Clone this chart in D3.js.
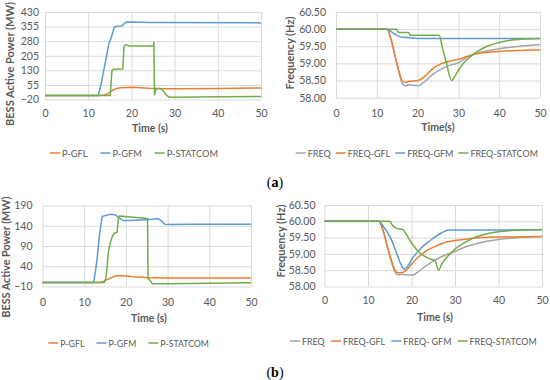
<!DOCTYPE html>
<html><head><meta charset="utf-8">
<script src="https://cdn.jsdelivr.net/npm/d3@7"></script>
<style>
body{margin:0;background:#fff;}
svg{display:block;font-family:Lato,"Open Sans",sans-serif;}
</style></head><body>
<svg id="c" width="550" height="380"></svg>
<script>
// ---------- data ----------
const timeTicks = [0, 10, 20, 30, 40, 50];
const powerTicksA = [-20, 55, 130, 205, 280, 355, 430];
const powerTicksB = [-10, 40, 90, 140, 190];
const freqTicks = [58.0, 58.5, 59.0, 59.5, 60.0, 60.5];

const powerNames = ["P-GFL", "P-GFM", "P-STATCOM"];
const freqNamesA = ["FREQ", "FREQ-GFL", "FREQ-GFM", "FREQ-STATCOM"];
const freqNamesB = ["FREQ", "FREQ-GFL", "FREQ- GFM", "FREQ-STATCOM"];

// (a) BESS active power [time s, MW]
const aPGFL = [[0,0],[12.5,0],[13.5,2],[14.5,10],[15.5,25],[16.5,36],[17.5,40],[19,42],[20.5,43],[22,41],[24,38],[26,36],[28,35],[32,35],[40,37],[50,39]];
const aPGFM = [[0,0],[12.3,0],[13,60],[14,175],[14.8,270],[15.3,295],[16,350],[16.5,357],[17.8,358],[18.6,376],[19.2,378],[25,376],[50,374]];
const aPSTAT = [[0,0],[15.1,0],[15.5,130],[15.9,136],[18,137],[18.3,255],[18.8,262],[19.5,255],[25.1,255],[25.2,275],[25.35,5],[25.7,35],[26.5,38],[27,33],[27.5,22],[28.2,0],[28.8,-8],[35,-7],[50,-4]];

// (a) frequency [time s, Hz]
const aFREQ = [[0,60],[12.5,60],[13.5,59.7],[14.5,59.2],[15.5,58.7],[16.3,58.4],[17,58.35],[18,58.38],[19,58.36],[20.3,58.35],[21,58.4],[22,58.5],[24,58.7],[26,58.85],[28,58.95],[30,59.02],[32,59.17],[34,59.28],[36,59.34],[40,59.43],[45,59.5],[50,59.55]];
const aFGFL = [[0,60],[12.5,60],[13.5,59.7],[14.5,59.2],[15.5,58.75],[16.3,58.48],[17,58.45],[18,58.48],[20,58.5],[21,58.55],[22,58.65],[24,58.88],[26,59.0],[28,59.07],[30,59.12],[32,59.2],[34,59.27],[36,59.31],[40,59.35],[45,59.38],[50,59.4]];
const aFGFM = [[0,60],[12.5,60],[13.5,59.93],[14.5,59.85],[15.5,59.79],[16.5,59.76],[18,59.75],[20,59.73],[50,59.73]];
const aFSTAT = [[0,60],[14.8,60],[15.2,59.92],[15.6,59.9],[17.8,59.9],[18.2,59.82],[25.3,59.82],[26,59.5],[27,59.05],[28.3,58.5],[29,58.6],[30,58.8],[31,58.97],[32,59.1],[33,59.2],[35,59.37],[37,59.5],[40,59.61],[43,59.68],[46,59.71],[50,59.73]];

// (b) BESS active power
const bPGFL = [[0,0],[13.5,0],[14.5,2],[15.5,7],[16.5,12],[17.5,16],[18.5,17],[20,16],[22,14],[25,12],[30,11],[40,11],[50,11]];
const bPGFM = [[0,0],[12.3,0],[13,50],[13.7,120],[14.3,163],[15,165],[16,168],[17,168],[17.6,166],[18.5,158],[19.2,153],[21,153],[25,155],[27.8,157],[28.5,152],[29.3,144],[30,143],[35,144],[50,144]];
const bPSTAT = [[0,0],[14.8,0],[15.2,10],[15.5,40],[15.8,75],[16.3,100],[16.8,115],[17.3,122],[17.9,124],[18.2,160],[18.5,164],[22,161],[25.2,158],[25.3,10],[25.8,5],[26.3,-3],[30,-3],[50,-1]];

// (b) frequency
const bFREQ = [[0,60],[12.5,60],[13.5,59.7],[14.5,59.2],[15.5,58.7],[16.3,58.42],[17,58.36],[18,58.37],[19.5,58.35],[20.5,58.36],[21.5,58.45],[23,58.6],[25,58.78],[27,58.92],[30,59.08],[33,59.24],[36,59.35],[40,59.44],[45,59.5],[50,59.53]];
const bFGFL = [[0,60],[12.5,60],[13.5,59.7],[14.5,59.2],[15.5,58.75],[16.3,58.48],[17,58.42],[18,58.43],[19,58.52],[20,58.68],[21,58.83],[22,58.95],[23.5,59.1],[25,59.2],[27,59.32],[30,59.41],[33,59.46],[36,59.5],[40,59.52],[50,59.53]];
const bFGFM = [[0,60],[12.5,60],[13.5,59.85],[14.5,59.65],[15.5,59.4],[16.5,59.05],[17.5,58.7],[18.3,58.53],[19,58.6],[20,58.82],[21,59.0],[22,59.15],[23.5,59.33],[25,59.48],[27,59.65],[28.5,59.73],[35,59.73],[50,59.74]];
const bFSTAT = [[0,60],[15,60],[15.5,59.9],[16.3,59.8],[17,59.77],[18,59.75],[18.7,59.62],[19.5,59.45],[20.5,59.25],[21.5,59.08],[23,58.93],[24.5,58.83],[25.4,58.8],[26.2,58.5],[27,58.7],[28,58.88],[29,59.02],[30,59.15],[32,59.33],[34,59.47],[36,59.57],[40,59.68],[45,59.73],[50,59.75]];

// ---------- styles ----------
const C = {gray:"#A5A5A5", orange:"#ED7D31", blue:"#5B9BD5", green:"#70AD47"};
const textColor = "#595959";
const gridColor = "#D9D9D9";
const FONT = "Lato, 'Open Sans', sans-serif";

const panels = [
  {x:[45,261], y:[99.5,12], yTicks:powerTicksA, fmt:d3.format("d"), ypad:6, xpad:10,
   ytitle:"BESS Active Power (MW)", ytx:9, yty:64, ytw:124, xtitle:"Time (s)", xtx:150, xty:128,
   legY:153, legL:50, legR:218, legGap:13, curve:d3.curveLinear,
   series:[{d:aPGFL,c:C.orange,n:powerNames[0]},{d:aPGFM,c:C.blue,n:powerNames[1]},{d:aPSTAT,c:C.green,n:powerNames[2]}]},
  {x:[336,540], y:[97.7,12], yTicks:freqTicks, fmt:d3.format(".2f"), ypad:10, xpad:12,
   ytitle:"Frequency (Hz)", ytx:289.5, yty:53, ytw:75, xtitle:"Time(s)", xtx:438, xty:127,
   legY:153, legL:295.7, legR:538, legGap:5, curve:d3.curveMonotoneX,
   series:[{d:aFREQ,c:C.gray,n:freqNamesA[0]},{d:aFGFL,c:C.orange,n:freqNamesA[1]},{d:aFGFM,c:C.blue,n:freqNamesA[2]},{d:aFSTAT,c:C.green,n:freqNamesA[3]}]},
  {x:[42.5,251], y:[286.5,205.5], yTicks:powerTicksB, fmt:d3.format("d"), ypad:10, xpad:12,
   ytitle:"BESS Active Power (MW)", ytx:5.5, yty:257, ytw:121, xtitle:"Time (s)", xtx:149, xty:318,
   legY:343, legL:48.3, legR:209, legGap:12, curve:d3.curveLinear,
   series:[{d:bPGFL,c:C.orange,n:powerNames[0]},{d:bPGFM,c:C.blue,n:powerNames[1]},{d:bPSTAT,c:C.green,n:powerNames[2]}]},
  {x:[324.5,542], y:[286.5,205], yTicks:freqTicks, fmt:d3.format(".2f"), ypad:9, xpad:10.5,
   ytitle:"Frequency (Hz)", ytx:280, yty:241, ytw:78, xtitle:"Time (s)", xtx:435, xty:317,
   legY:341, legL:290, legR:536.7, legGap:6, curve:d3.curveMonotoneX,
   series:[{d:bFREQ,c:C.gray,n:freqNamesB[0]},{d:bFGFL,c:C.orange,n:freqNamesB[1]},{d:bFGFM,c:C.blue,n:freqNamesB[2]},{d:bFSTAT,c:C.green,n:freqNamesB[3]}]}
];

const svg = d3.select("#c");

panels.forEach(p => {
  const xs = d3.scaleLinear().domain([0,50]).range(p.x);
  const ys = d3.scaleLinear().domain(d3.extent(p.yTicks)).range(p.y);
  const w = p.x[1]-p.x[0], h = p.y[0]-p.y[1];
  const g = svg.append("g");

  const ya = g.append("g").attr("transform",`translate(${p.x[0]},0)`)
    .call(d3.axisLeft(ys).tickValues(p.yTicks).tickFormat(p.fmt).tickSizeInner(-w).tickSizeOuter(0).tickPadding(p.ypad));
  ya.select(".domain").remove();
  ya.selectAll("line").attr("stroke",gridColor);
  ya.selectAll("text").attr("fill",textColor).attr("font-size",10.5).attr("font-family",FONT);

  const xa = g.append("g").attr("transform",`translate(0,${p.y[0]})`)
    .call(d3.axisBottom(xs).tickValues(timeTicks).tickFormat(d3.format("d")).tickSizeInner(-h).tickSizeOuter(0).tickPadding(p.xpad));
  xa.select(".domain").remove();
  xa.selectAll("line").attr("stroke",gridColor);
  xa.selectAll("text").attr("fill",textColor).attr("font-size",10.5).attr("font-family",FONT);

  const line = d3.line().x(d=>xs(d[0])).y(d=>ys(d[1])).curve(p.curve);
  p.series.forEach(s => {
    g.append("path").attr("d",line(s.d)).attr("fill","none").attr("stroke",s.c)
      .attr("stroke-width",1.5).attr("stroke-linejoin","round");
  });

  // y title fitted to its reference length
  const yt = g.append("text").attr("transform",`translate(${p.ytx},${p.yty}) rotate(-90)`)
    .attr("text-anchor","middle").attr("dominant-baseline","central")
    .attr("fill",textColor).attr("font-size",10).attr("font-weight",700).text(p.ytitle);
  const yl = yt.node().getComputedTextLength();
  yt.attr("font-size", Math.min(11, 10*p.ytw/yl));

  g.append("text").attr("x",p.xtx).attr("y",p.xty).attr("text-anchor","middle").attr("dominant-baseline","central")
    .attr("fill",textColor).attr("font-size",10.5).attr("font-weight",700).text(p.xtitle);

  // legend: font fitted so the items fill the reference span
  const lg = g.append("g").attr("transform",`translate(${p.legL},${p.legY})`);
  const items = p.series.map(s => {
    const it = lg.append("g");
    it.append("line").attr("x1",0).attr("x2",10).attr("y1",0).attr("y2",0).attr("stroke",s.c).attr("stroke-width",1.5);
    const t = it.append("text").attr("x",12).attr("y",0).attr("dominant-baseline","central")
      .attr("fill",textColor).attr("font-size",10).text(s.n);
    return {it, t, tw: t.node().getComputedTextLength()};
  });
  const n = items.length;
  const span = p.legR - p.legL;
  const textSum = d3.sum(items, d=>d.tw);
  const fs = Math.min(10.5, 10*(span - 12*n - p.legGap*(n-1))/textSum);
  items.forEach(d => { d.t.attr("font-size", fs); d.tw = d.t.node().getComputedTextLength(); });
  const gap = (span - 12*n - d3.sum(items, d=>d.tw))/(n-1);
  let cx = 0;
  items.forEach(d => { d.it.attr("transform",`translate(${cx},0)`); cx += 12 + d.tw + gap; });
});

// panel captions
[["a",275,182],["b",275,372]].forEach(([l,x,y]) => {
  const t = svg.append("text").attr("x",x).attr("y",y).attr("text-anchor","middle").attr("dominant-baseline","central")
    .attr("font-family","Liberation Serif, serif").attr("font-size",14).attr("fill","#000");
  t.append("tspan").text("(");
  t.append("tspan").attr("font-weight","bold").text(l);
  t.append("tspan").text(")");
});
</script>
</body></html>
